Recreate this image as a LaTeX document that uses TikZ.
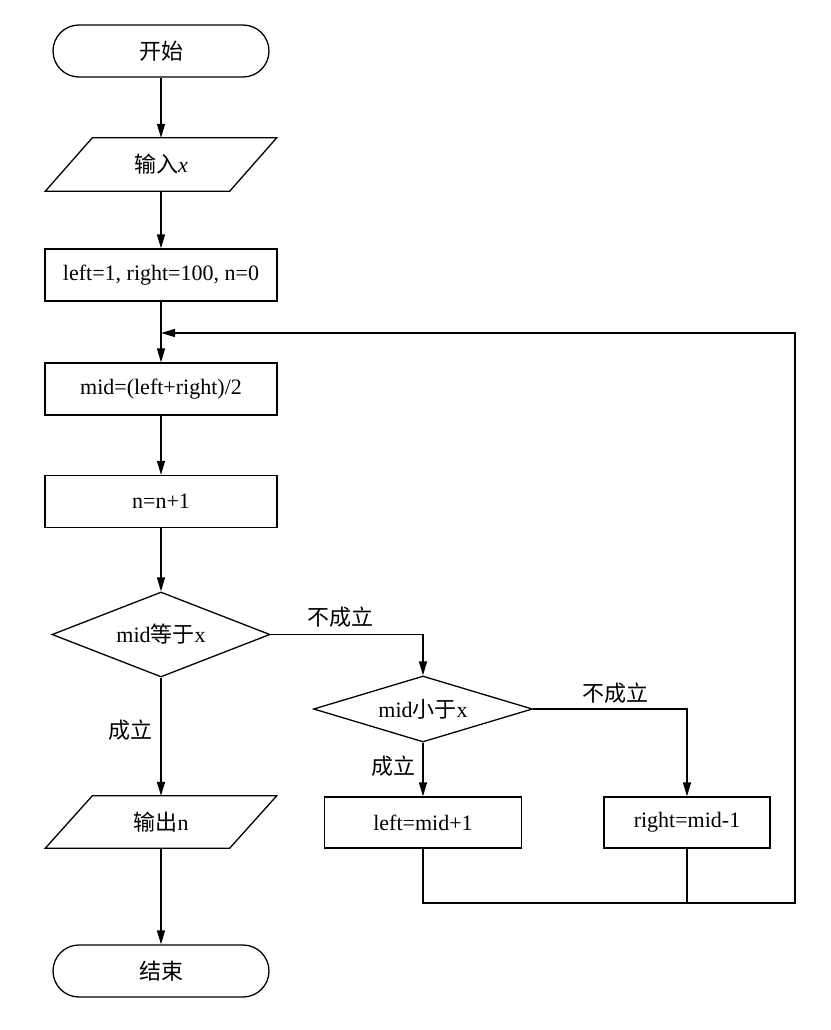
\documentclass[tikz,border=0pt]{standalone}
\usepackage{fontspec}
\setmainfont{Liberation Serif}
\newfontfamily\cjk{Noto Sans CJK SC}
\usetikzlibrary{arrows.meta,shapes.geometric,calc}
\begin{document}
\begin{tikzpicture}[x=1pt,y=-1pt,
  every node/.style={font=\fontsize{22}{26}\selectfont, inner sep=0pt},
  box/.style={draw, line width=1.3pt, minimum width=232pt, minimum height=52pt},
  term/.style={draw, line width=1.3pt, rounded corners=26pt, minimum width=216pt, minimum height=52pt},
  dec/.style={draw, diamond, line width=1.3pt, aspect=2.5},
  io/.style={minimum width=184pt, minimum height=53pt},
  conn/.style={line width=1.3pt},
  arr/.style={conn, -{Triangle[length=14pt,width=8pt]}}
]
\useasboundingbox (0,0) rectangle (830,1030);

\node[term] (start) at (161,51) {{\cjk 开始}};
\node[io] (in) at (161,164.5) {{\cjk 输入}\textit{x}};
\node[box] (init) at (161,275) {left=1, right=100, n=0};
\node[box] (mid) at (161,389) {mid=(left+right)/2};
\node[box] (inc) at (161,501.5) {n=n+1};
\node[dec, minimum width=218pt, minimum height=85pt] (d1) at (161,634.5) {mid{\cjk 等于}x};
\node[dec, minimum width=219pt, minimum height=66pt] (d2) at (423,709) {mid{\cjk 小于}x};
\node[box, minimum width=197pt, minimum height=51pt] (lft) at (423,822.5) {left=mid+1};
\node[box, minimum width=166pt, minimum height=51pt] (rgt) at (687,822.5) {right=mid-1};
\node[io, minimum height=52pt] (out) at (161,822) {{\cjk 输出}n};
\node[term] (end) at (161,971) {{\cjk 结束}};

% parallelograms
\draw[conn] ($(in.north west)+(23.5,0)$) -- ($(in.north east)+(23.5,0)$) -- ($(in.south east)+(-23.5,0)$) -- ($(in.south west)+(-23.5,0)$) -- cycle;
\draw[conn] ($(out.north west)+(23.5,0)$) -- ($(out.north east)+(23.5,0)$) -- ($(out.south east)+(-23.5,0)$) -- ($(out.south west)+(-23.5,0)$) -- cycle;

% labels
\node (n1) at (340,617) {{\cjk 不成立}};
\node (n2) at (615,693) {{\cjk 不成立}};
\node (y2) at (393,766) {{\cjk 成立}};
\node (y1) at (130,730) {{\cjk 成立}};

% loop coordinates
\coordinate (b) at (795,903);
\coordinate (t) at (795,333);
\coordinate (j) at (161,333);

% connectors
\draw[arr] (start) -- (in);
\draw[arr] (in) -- (init);
\draw[arr] (init) -- (mid);
\draw[arr] (mid) -- (inc);
\draw[arr] (inc) -- (d1);
\draw[arr] (d1.east) -| (d2.north);
\draw[arr] (d2.east) -| (rgt.north);
\draw[arr] (d2.south) -- (lft.north);
\draw[arr] (d1.south) -- (out.north);
\draw[arr] (out.south) -- (end.north);
\draw[arr] (lft.south) |- (b) -- (t) -- (j);
\draw[conn] (rgt.south) -- (rgt.south |- b);
\end{tikzpicture}
\end{document}
